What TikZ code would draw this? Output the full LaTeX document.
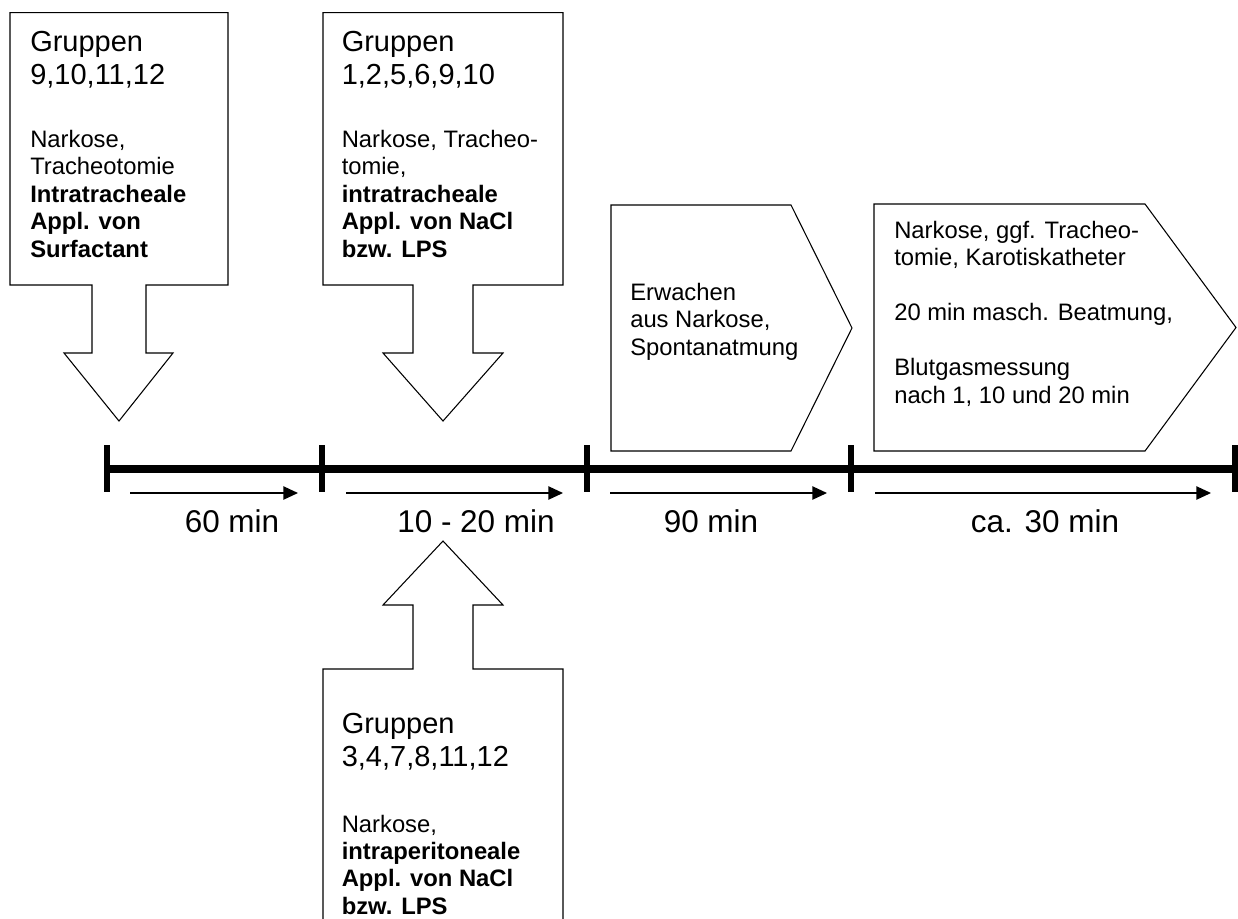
\documentclass[tikz,border=0pt]{standalone}
\usepackage{fontspec}
\setmainfont{Liberation Sans}
\usetikzlibrary{arrows.meta}

\begin{document}
\begin{tikzpicture}[
    x=0.75pt,
    y=-0.75pt,
    callout/.style={
        draw,
        line width=0.8pt,
        line join=miter,
        fill=white
    },
    grouptext/.style={
        anchor=north west,
        align=left,
        inner sep=0pt,
        font=\fontsize{21.75}{25}\selectfont
    },
    steptext/.style={
        anchor=north west,
        align=left,
        inner sep=0pt,
        font=\fontsize{17.85}{20.6}\selectfont
    },
    durlabel/.style={
        anchor=base,
        inner sep=0pt,
        font=\fontsize{23.6}{27}\selectfont
    },
    durarrow/.style={
        line width=1pt,
        -{Triangle[length=11pt,width=10pt]}
    }
]
\useasboundingbox (0,0) rectangle (1238,918);

% Down callout, surfactant groups
\draw[callout] (10,12.7) -- (228,12.7) -- (228,285) -- (146,285) -- (146,353)
    -- (173,353) -- (119,421) -- (64,353) -- (92,353) -- (92,285)
    -- (10,285) -- cycle;
\node[grouptext] (grpA) at (30,30.6) {Gruppen\\9,10,11,12};
\node[steptext] (actA) at (30,129.7)
    {Narkose,\\Tracheotomie\\\textbf{Intratracheale}\\\textbf{Appl. von}\\\textbf{Surfactant}};

% Down callout, intratracheal groups
\draw[callout] (323,12.7) -- (563,12.7) -- (563,285) -- (473,285) -- (473,353)
    -- (503,353) -- (443,421) -- (383,353) -- (413,353) -- (413,285)
    -- (323,285) -- cycle;
\node[grouptext] (grpB) at (341.5,30.6) {Gruppen\\1,2,5,6,9,10};
\node[steptext] (actB) at (341.5,129.7)
    {Narkose, Tracheo-\\tomie,\\\textbf{intratracheale}\\\textbf{Appl. von NaCl}\\\textbf{bzw. LPS}};

% Up callout, intraperitoneal groups (runs off the page)
\draw[callout] (323,930) -- (323,669) -- (413,669) -- (413,605) -- (383,605)
    -- (443,541) -- (503,605) -- (473,605) -- (473,669) -- (563,669)
    -- (563,930);
\node[grouptext] (grpC) at (341.5,713) {Gruppen\\3,4,7,8,11,12};
\node[steptext] (actC) at (341.5,814.5)
    {Narkose,\\\textbf{intraperitoneale}\\\textbf{Appl. von NaCl}\\\textbf{bzw. LPS}};

% Pentagon steps
\draw[callout] (611,205) -- (791,205) -- (852,328) -- (791,451) -- (611,451) -- cycle;
\node[steptext] (wake) at (630,283) {Erwachen\\aus Narkose,\\Spontanatmung};

\draw[callout] (874,204) -- (1145,204) -- (1236,327.5) -- (1145,451) -- (874,451) -- cycle;
\node[steptext] (vent) at (894,221)
    {Narkose, ggf. Tracheo-\\tomie, Karotiskatheter\\[20.6pt]
     20 min masch. Beatmung,\\[20.6pt]
     Blutgasmessung\\nach 1, 10 und 20 min};

% Time line with ticks
\foreach \x/\n in {107/t1,322/t2,587/t3,851/t4,1235/t5}
    \coordinate (\n) at (\x,469);
\draw[line width=5.8pt] (t1) -- (t5);
\foreach \x in {107,322,587,851,1235}
    \draw[line width=4pt] (\x,445) -- (\x,492);

% Duration arrows
\foreach \i/\a/\b in {1/130/298,2/346/563,3/610/827,4/875/1211} {
    \coordinate (from\i) at (\a,493);
    \coordinate (to\i) at (\b,493);
    \draw[durarrow] (from\i) -- (to\i);
}

% Durations
\node[durlabel] (durA) at (232,532) {60 min};
\node[durlabel] (durB) at (476,532) {10 - 20 min};
\node[durlabel] (durC) at (711,532) {90 min};
\node[durlabel] (durD) at (1045,532) {ca. 30 min};

\end{tikzpicture}
\end{document}
